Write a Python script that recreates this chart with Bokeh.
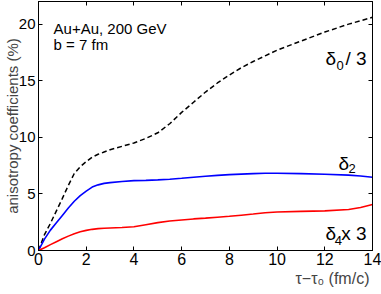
from bokeh.plotting import figure
from bokeh.models import LinearAxis, Label, FixedTicker, Range1d, CustomLabelingPolicy
from bokeh.embed import file_html
from bokeh.resources import INLINE

# ---- data ----
tau = [0, 0.25, 0.5, 0.75, 1.0, 1.25, 1.5, 1.75, 2.0, 2.25, 2.5, 2.75, 3.0, 3.5, 4.0, 4.5,
       5.0, 5.5, 6.0, 6.5, 7.0, 7.5, 8.0, 8.5, 9.0, 9.5, 10.0, 11.0, 12.0, 13.0, 13.5, 14.0]
delta0_over3 = [0, 1.4, 2.4, 3.5, 4.6, 5.75, 6.8, 7.4, 7.85, 8.25, 8.5, 8.7, 8.9, 9.2, 9.5, 9.9,
                10.4, 11.2, 12.2, 13.1, 14.0, 14.8, 15.5, 16.15, 16.7, 17.2, 17.7, 18.5, 19.3, 20.0, 20.3, 20.6]
delta2 = [0, 1.0, 1.8, 2.45, 3.1, 3.75, 4.35, 4.85, 5.25, 5.6, 5.8, 5.93, 6.0, 6.1, 6.17, 6.2,
          6.24, 6.3, 6.38, 6.47, 6.56, 6.64, 6.7, 6.75, 6.79, 6.82, 6.82, 6.79, 6.74, 6.66, 6.58, 6.47]
delta4_x3 = [0, 0.25, 0.52, 0.78, 1.03, 1.27, 1.48, 1.65, 1.78, 1.87, 1.93, 1.97, 1.99, 2.03, 2.1, 2.28,
             2.46, 2.6, 2.7, 2.79, 2.86, 2.94, 3.02, 3.12, 3.22, 3.33, 3.4, 3.46, 3.5, 3.62, 3.8, 4.06]

x_ticks = [0, 2, 4, 6, 8, 10, 12, 14]
y_ticks = [0, 5, 10, 15, 20]

FONT = "Liberation Sans"

p = figure(frame_width=334, frame_height=249,
           x_range=Range1d(0, 14), y_range=Range1d(0, 22),
           output_backend="svg", toolbar_location=None,
           min_border_left=38, min_border_right=9, min_border_top=1, min_border_bottom=44,
           background_fill_color="white", border_fill_color="white")

p.xgrid.grid_line_color = None
p.ygrid.grid_line_color = None
p.outline_line_color = "black"
p.outline_line_width = 1

bottom_axis = p.below[0]
left_axis = p.left[0]
bottom_axis.ticker = FixedTicker(ticks=x_ticks)
left_axis.ticker = FixedTicker(ticks=y_ticks)

hide_all = CustomLabelingPolicy(code="""
try { for (const i of Array.from(indices)) { indices.unset(i) } } catch (e) {}
return indices
""")

top_axis = LinearAxis(ticker=FixedTicker(ticks=x_ticks))
right_axis = LinearAxis(ticker=FixedTicker(ticks=y_ticks))
p.add_layout(top_axis, "above")
p.add_layout(right_axis, "right")

for ax in [bottom_axis, left_axis, top_axis, right_axis]:
    ax.axis_line_color = "black"
    ax.axis_line_width = 1
    ax.major_tick_line_color = "black"
    ax.major_tick_line_width = 1
    ax.major_tick_in = 4
    ax.major_tick_out = 0
    ax.minor_tick_line_color = None
    ax.major_label_text_font = FONT
    ax.major_label_text_font_size = "16px"
    ax.major_label_text_color = "black"
    ax.major_label_standoff = 3

for ax in [top_axis, right_axis]:
    ax.major_label_text_font_size = "0px"
    ax.major_label_standoff = 0
    ax.major_label_policy = hide_all

bottom_axis.major_label_standoff = 2
left_axis.major_label_text_font_size = "15px"

left_axis.axis_label = "anisotropy coefficients (%)"
left_axis.axis_label_text_font = FONT
left_axis.axis_label_text_font_size = "15px"
left_axis.axis_label_text_font_style = "normal"
left_axis.axis_label_standoff = -5

bottom_axis.axis_label = "τ−τ₀ (fm/c)\u2003\u2003\u2003\u2003\u2003"
bottom_axis.axis_label_text_font = FONT
bottom_axis.axis_label_text_font_size = "16px"
bottom_axis.axis_label_text_font_style = "normal"
bottom_axis.axis_label_standoff = 2
bottom_axis.axis_label_align = "end"

p.line(tau, delta0_over3, line_color="black", line_width=1.5, line_dash="5 3")
p.line(tau, delta2, line_color="#0000ff", line_width=1.6)
p.line(tau, delta4_x3, line_color="#ff0000", line_width=1.6)

def lab(x, y, text, size, align="left", baseline="alphabetic"):
    p.add_layout(Label(x=x, y=y, text=text, text_font=FONT, text_font_size=size,
                       text_align=align, text_baseline=baseline, text_color="black"))

lab(0.63, 19.6, "Au+Au, 200 GeV", "15px")
lab(0.63, 18.18, "b = 7 fm", "15px")

# delta_0 / 3
lab(12.03, 16.95, "δ", "19px")
lab(12.49, 16.33, "0", "13px")
lab(13.75, 16.95, "/ 3", "19px", align="right")

# delta_2
lab(12.57, 7.68, "δ", "19px")
lab(12.99, 7.24, "2", "13px")

# delta_4 x 3
lab(12.03, 1.5, "δ", "19px")
lab(12.42, 0.88, "4", "13px")
lab(13.75, 1.5, "x 3", "19px", align="right")

open("out.html", "w").write(file_html(p, INLINE))
